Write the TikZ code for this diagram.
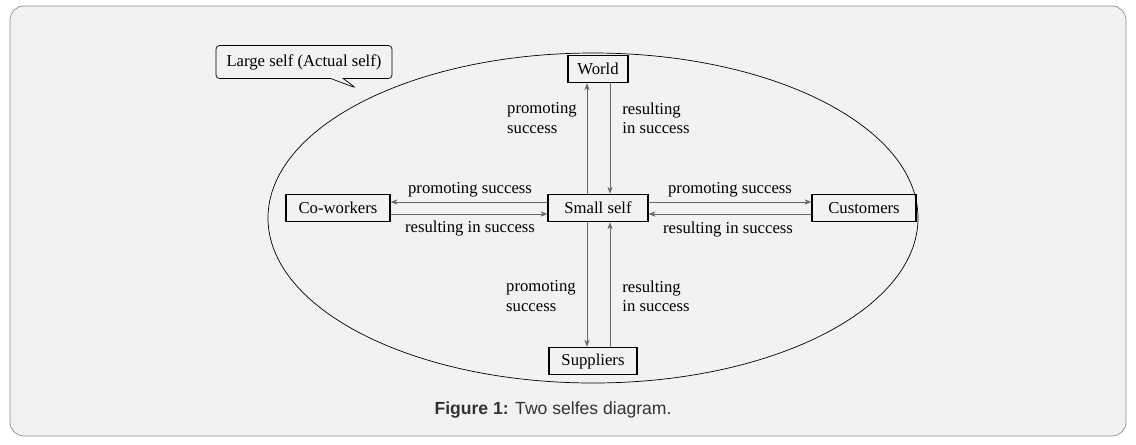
\documentclass[tikz,border=0pt]{standalone}
\usepackage{fontspec}
\setmainfont{Liberation Serif}
\newfontfamily\capfont{Liberation Sans}
\usetikzlibrary{arrows.meta,positioning,shapes.callouts}
\tikzset{
  box/.style={draw, semithick, minimum height=0.55cm, inner xsep=5pt, font=\fontsize{9.5}{11}\selectfont},
  lbl/.style={font=\fontsize{9.5}{11}\selectfont, inner sep=1pt},
  flow/.style={draw=black!60, -{Stealth[length=4pt,width=3pt]}, black!60}
}
\begin{document}
\begin{tikzpicture}[x=0.02cm, y=-0.02cm]
  \useasboundingbox (0,0) rectangle (1136,444);
  \fill[white] (0,0) rectangle (1136,444);
  \draw[black!45, fill=black!5, rounded corners=8pt] (10,6) rectangle (1126,436);
  % Large self
  \draw (593,218) ellipse [x radius=325, y radius=165];
  \node[rectangle callout, draw, fill=black!5, rounded corners=2pt, minimum height=0.66cm,
        minimum width=3.52cm, font=\fontsize{9.5}{11}\selectfont,
        callout absolute pointer={(356,88)}] (large) at (304,62) {Large self (Actual self)};
  % Place nodes
  \node[box, minimum width=2cm] (small) at (598,208) {Small self};
  \node[box, minimum width=1.2cm] (world) at (598,69) {World};
  \node[box, minimum width=2.08cm] (cowork) at (338,208) {Co-workers};
  \node[box, minimum width=2.08cm] (cust) at (864,208) {Customers};
  \node[box, minimum width=1.76cm] (suppl) at (593,361) {Suppliers};
  % Connectors
  \draw[flow] ([xshift=-0.22cm]small.north) -- ([xshift=-0.22cm]small.north |- world.south);
  \draw[flow] ([xshift=0.24cm]small.north |- world.south) -- ([xshift=0.24cm]small.north);
  \draw[flow] ([xshift=-0.22cm]small.south) -- ([xshift=-0.22cm]small.south |- suppl.north);
  \draw[flow] ([xshift=0.24cm]small.south |- suppl.north) -- ([xshift=0.24cm]small.south);
  \draw[flow] ([yshift=0.12cm]small.west) -- ([yshift=0.12cm]cowork.east);
  \draw[flow] ([yshift=-0.12cm]cowork.east) -- ([yshift=-0.12cm]small.west);
  \draw[flow] ([yshift=0.12cm]small.east) -- ([yshift=0.12cm]cust.west);
  \draw[flow] ([yshift=-0.12cm]cust.west) -- ([yshift=-0.12cm]small.east);
  % Labels
  \node[lbl, align=left] (l1) at (542,118) {promoting\\success};
  \node[lbl, align=left] (l2) at (656,118) {resulting\\in success};
  \node[lbl, align=left] (l3) at (541,296) {promoting\\success};
  \node[lbl, align=left] (l4) at (656,296) {resulting\\in success};
  \node[lbl] (l5) at (470,190) {promoting success};
  \node[lbl] (l6) at (470,229) {resulting in success};
  \node[lbl] (l7) at (730,190) {promoting success};
  \node[lbl] (l8) at (728,230) {resulting in success};
  \node[font=\capfont\fontsize{10}{12}\selectfont, black!80] (cap) at (553,410) {\textbf{Figure 1:} Two selfes diagram.};
\end{tikzpicture}
\end{document}
